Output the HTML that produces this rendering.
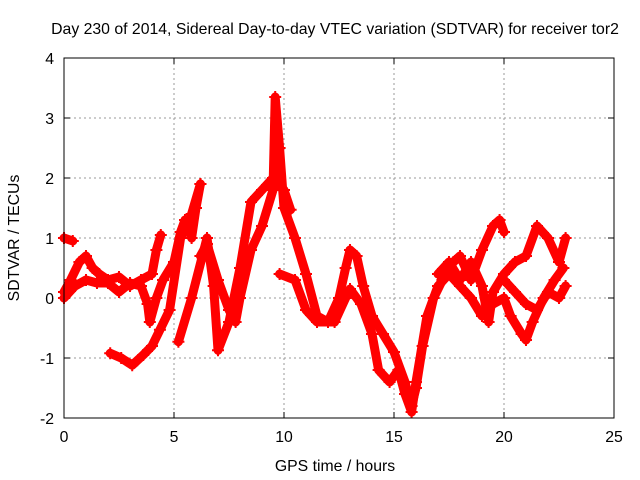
<!DOCTYPE html>
<html><head><meta charset="utf-8"><style>
body{margin:0;background:#fff}
svg{display:block;font-family:"Liberation Sans",sans-serif;font-size:15.8px}
</style></head><body>
<svg id="c" width="640" height="480">
<text x="335" y="34" text-anchor="middle">Day 230 of 2014, Sidereal Day-to-day VTEC variation (SDTVAR) for receiver tor2</text>
<text x="335" y="471" text-anchor="middle">GPS time / hours</text>
<text transform="translate(19,238) rotate(-90)" text-anchor="middle">SDTVAR / TECUs</text>
<g id="grid"></g><g id="data"></g>
<rect x="64" y="58" width="550" height="360" fill="none" stroke="#000"/>
</svg>
<script>
const xTicks=[0,5,10,15,20,25];
const yTicks=[-2,-1,0,1,2,3,4];
const trackA=[[0,0.1],[0.3,0.3],[0.7,0.6],[1,0.7],[1.3,0.5],[1.6,0.4],[2,0.3],[2.5,0.35],[3,0.2],[3.5,0.3],[4,0.4],[4.2,0.8],[4.4,1.05]];
const trackB=[[0,0.0],[0.5,0.2],[1,0.3],[1.5,0.25],[2,0.25],[2.5,0.1],[3,0.25],[3.5,0.2],[3.8,-0.1],[3.9,-0.4],[4.2,0.0],[4.5,0.3],[5,0.6],[5.3,1.1],[5.5,1.3],[5.8,1.0],[6,1.5],[6.2,1.9]];
const trackC=[[0,1.0],[0.4,0.95]];
const trackD=[[2.1,-0.92],[2.6,-1.0],[3.1,-1.12],[3.6,-0.95],[4.0,-0.8],[4.36,-0.53],[4.8,-0.2],[5.3,1.0],[5.8,1.4],[6.2,1.9]];
const trackE=[[5.2,-0.73],[5.8,0.0],[6.5,1.0],[6.8,0.2],[7.0,-0.87],[7.5,-0.4],[8.0,0.5],[8.5,1.6],[9.0,1.8],[9.5,2.0],[10.0,1.8],[10.3,1.47]];
const trackF=[[6.2,0.7],[6.5,0.9],[7,0.3],[7.5,-0.2],[7.8,-0.4],[8,0.0],[8.5,0.8],[9,1.2],[9.5,1.8],[9.6,3.35],[9.8,2.5],[10,1.5],[10.5,1.0],[11,0.4],[11.5,-0.3],[12,-0.4],[12.5,0.0],[12.8,0.5],[13,0.8],[13.3,0.7],[13.6,0.2],[14,-0.3],[14.5,-0.6],[15,-0.9],[15.5,-1.4],[15.8,-1.8],[16,-1.5],[16.3,-0.8],[16.8,0.0],[17.2,0.3],[17.7,0.6],[18,0.7],[18.5,0.3],[19,0.8],[19.5,1.2],[19.8,1.3],[20,1.1]];
const trackG=[[9.8,0.4],[10.5,0.3],[11,-0.2],[11.5,-0.4],[12.3,-0.4],[12.8,0.0],[13,0.15],[13.5,-0.1],[14,-0.6],[14.3,-1.2],[14.8,-1.4],[15.2,-1.2],[15.5,-1.6],[15.8,-1.9],[16,-1.4],[16.5,-0.3],[17,0.2],[17.5,0.4],[18,0.2],[18.5,0.0],[19,-0.3],[19.5,-0.1],[20,0.0],[20.3,-0.3],[20.8,-0.6],[21,-0.7],[21.3,-0.4],[21.8,0.0],[22.3,0.3],[22.7,0.5]];
const trackH=[[17,0.4],[17.5,0.6],[18,0.3],[18.5,0.6],[19,0.2],[19.3,-0.4],[19.5,0.1],[20,0.4],[20.5,0.6],[21,0.7],[21.5,1.2],[22,1.0],[22.5,0.6],[22.8,1.0]];
const trackI=[[20,0.3],[20.5,0.1],[21,-0.1],[21.5,-0.2],[22,0.1],[22.5,0.0],[22.8,0.2]];
const tracks=[trackA,trackB,trackC,trackD,trackE,trackF,trackG,trackH,trackI];
const X=t=>64+t*22, Y=v=>298-v*60;
const NS='http://www.w3.org/2000/svg';
const grid=document.getElementById('grid'), data=document.getElementById('data');
function mk(tag,attrs,parent){const e=document.createElementNS(NS,tag);for(const k in attrs)e.setAttribute(k,attrs[k]);parent.appendChild(e);return e;}
xTicks.forEach(t=>{
  if(t>0&&t<25){const g=mk('line',{x1:X(t),x2:X(t),y1:58,y2:418,stroke:'#999','stroke-dasharray':'2,3'},grid);
  
  }
  mk('line',{x1:X(t),x2:X(t),y1:418,y2:412,stroke:'#000'},grid);
  mk('line',{x1:X(t),x2:X(t),y1:58,y2:64,stroke:'#000'},grid);
  const l=mk('text',{x:X(t),y:442,'text-anchor':'middle'},grid);l.textContent=t;
  
  
});
yTicks.forEach(v=>{
  if(v>-2&&v<4){const g=mk('line',{x1:64,x2:614,y1:Y(v),y2:Y(v),stroke:'#999','stroke-dasharray':'2,3'},grid);
  
  }
  mk('line',{x1:64,x2:70,y1:Y(v),y2:Y(v),stroke:'#000'},grid);
  mk('line',{x1:614,x2:608,y1:Y(v),y2:Y(v),stroke:'#000'},grid);
  const l=mk('text',{x:54,y:Y(v)+6,'text-anchor':'end'},grid);l.textContent=v;
  
  
});
tracks.forEach(tr=>{
  const p=mk('polyline',{points:tr.map(d=>X(d[0])+','+Y(d[1])).join(' '),fill:'none',stroke:'#f00','stroke-width':9,'stroke-linejoin':'round','stroke-linecap':'round'},data);
  
  
  tr.forEach(d=>{
    const m=mk('path',{d:`M${X(d[0])-6},${Y(d[1])}h12M${X(d[0])},${Y(d[1])-6}v12`,stroke:'#f00','stroke-width':2},data);
    
    
  });
});
</script>
</body></html>
